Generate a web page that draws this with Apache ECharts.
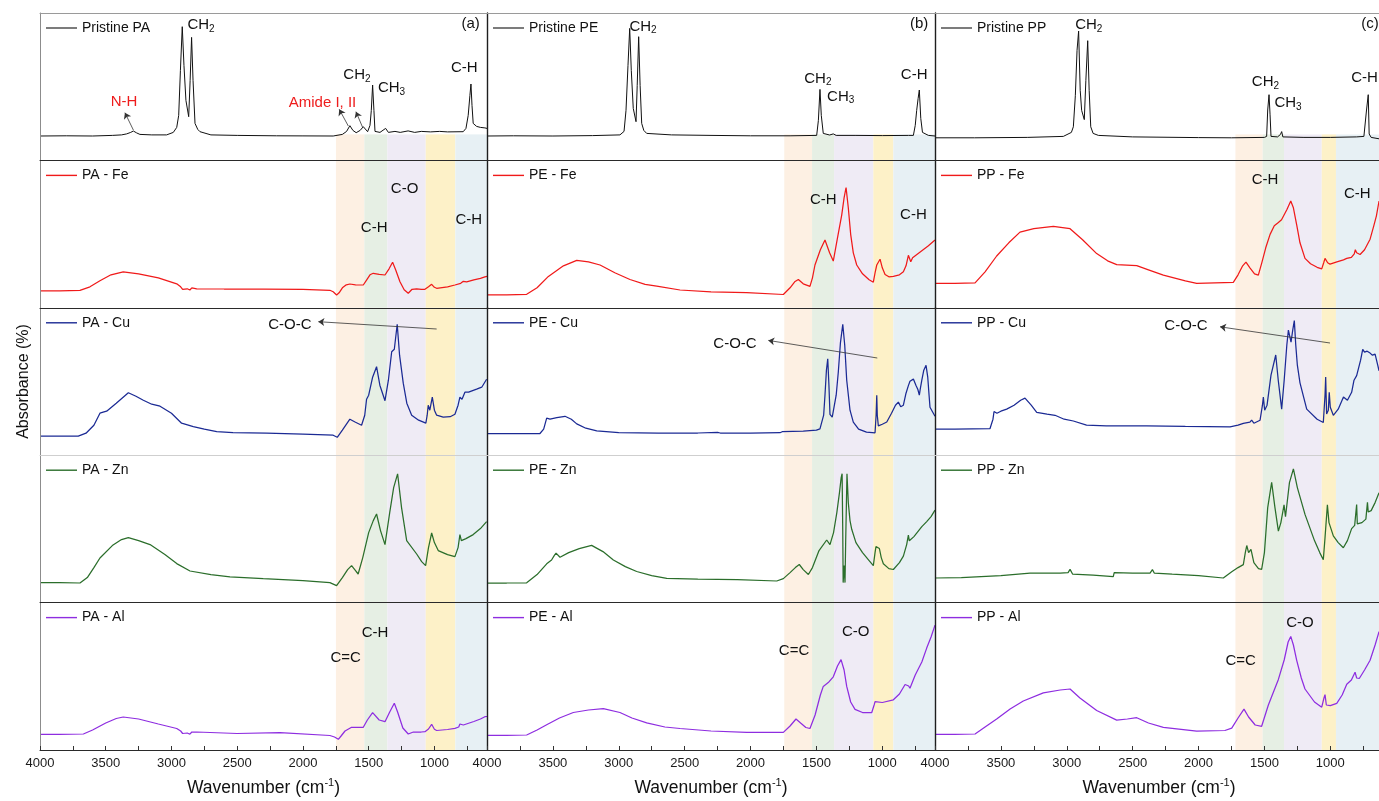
<!DOCTYPE html>
<html>
<head>
<meta charset="utf-8">
<title>FTIR spectra of pristine and metal-treated PA, PE and PP</title>
<script src="https://cdn.jsdelivr.net/npm/echarts@6/dist/echarts.min.js"></script>
<style>
  html, body { margin: 0; padding: 0; background: #ffffff; }
  #chart { width: 1379px; height: 801px; }
</style>
</head>
<body>
<div id="chart"></div>
<script>
// ---------- spectra: [wavenumber (cm-1), absorbance (a.u.)] ----------
const pristinePA = [[4000,24.4],[3800,24.6],[3600,24.4],[3450,25],[3380,25.5],[3341,26.5],[3310,28],[3290,29.4],[3265,27.5],[3240,26],[3150,25.5],[3037,25.5],[2986,28],[2960,33],[2945,45],[2932,90],[2918,133.7],[2905,95],[2890,60],[2869,43.7],[2858,80],[2847,123],[2836,80],[2821,37],[2800,31],[2783,28.7],[2700,25.5],[2500,25],[2200,24.6],[2000,24.5],[1770,24.4],[1700,26],[1668,29],[1643,34.7],[1620,30],[1595,27.7],[1565,30],[1541,33.7],[1508,28.7],[1490,35],[1480,50],[1470,75.4],[1460,50],[1452,29],[1414,28],[1371,32],[1350,28],[1300,29],[1260,28],[1200,29.5],[1150,28],[1100,29],[1030,28.5],[960,29],[900,28.5],[781,28.7],[760,32],[743,45],[730,65],[722,76.4],[714,55],[705,37],[690,35],[679,34],[650,33],[616,32.5],[600,32]];
const paFe = [[4000,17],[3850,17],[3696,17.5],[3620,21],[3544,27],[3460,33],[3367,36],[3250,34],[3100,30],[2960,24],[2930,21],[2915,18.5],[2900,20.5],[2880,19],[2860,17.8],[2845,20],[2808,19],[2600,18.8],[2300,18.6],[2000,18.4],[1795,17.5],[1770,16],[1744,12.8],[1725,15],[1700,20],[1670,23],[1643,23.8],[1600,23],[1541,22.8],[1515,28],[1490,33],[1465,34.5],[1420,33.5],[1376,32.8],[1345,39],[1318,45.5],[1295,38],[1262,26],[1230,18],[1199,14.5],[1170,18.5],[1135,19],[1100,18.5],[1072,18.5],[1045,21],[1021,23.5],[1000,20.5],[983,19.5],[900,21],[844,22.8],[800,24.5],[780,26.5],[770,25],[755,26],[700,28],[650,29.5],[616,31],[600,31.5]];
const paCu = [[4000,19],[3850,19],[3709,19],[3650,22],[3590,30],[3544,42],[3520,43],[3493,44],[3420,52],[3328,62.5],[3270,59],[3214,55],[3150,51],[3087,49],[3000,42],[2923,32],[2834,28.5],[2750,26],[2656,23.5],[2532,22.5],[2276,22],[2000,21],[1770,20],[1739,17.9],[1700,25],[1643,36],[1600,33],[1554,30],[1530,40],[1516,56],[1500,60],[1470,78],[1440,88.5],[1415,70],[1376,54.5],[1350,75],[1325,103.5],[1305,106],[1283,131],[1265,100],[1237,72],[1210,52],[1173,40],[1120,35],[1065,32],[1055,40],[1047,50],[1035,45],[1016,58],[1000,45],[983,40],[933,38],[880,38.5],[844,41],[820,50],[806,58],[790,56],[768,63],[740,63],[679,66],[640,68],[603,76]];
const paZn = [[4000,20],[3850,20],[3696,19.6],[3640,25],[3590,35],[3544,44.6],[3450,57],[3380,63],[3328,65],[3250,62],[3163,58],[3050,48],[2960,39],[2859,31.6],[2700,28],[2555,25.8],[2302,24],[2000,22],[1795,20],[1744,17],[1700,25],[1660,33],[1630,37],[1600,32],[1580,28.6],[1545,45],[1500,70],[1465,82],[1440,88.6],[1410,72],[1376,58],[1340,90],[1310,115],[1280,128.8],[1250,95],[1211,62],[1135,48.6],[1097,41],[1067,37],[1045,55],[1021,69.6],[1000,60],[971,52],[900,48],[844,46],[820,55],[806,68],[795,62],[760,64],[705,68],[650,74],[603,81]];
const paAl = [[4000,15.7],[3850,15.7],[3670,16],[3600,20],[3500,27],[3420,31.5],[3367,33],[3250,31],[3100,26],[2960,21.5],[2930,19],[2915,16.5],[2900,18.5],[2880,17],[2860,15.8],[2845,18],[2808,18],[2500,16.5],[2175,17.3],[1795,14.5],[1760,13],[1731,10.7],[1710,14],[1680,19],[1630,22.7],[1541,22.7],[1510,30],[1470,37.3],[1420,30],[1376,28.3],[1340,38],[1305,46.7],[1280,38],[1240,22],[1199,16],[1160,18],[1100,18],[1072,18.3],[1045,21],[1021,25.7],[1000,20.7],[983,19.5],[900,20.5],[844,21.7],[815,23],[806,26],[795,24],[780,25],[700,28.5],[650,31],[616,33.3],[600,33.5]];

const pristinePE = [[4000,24.4],[3800,24.6],[3500,24.4],[3200,24.8],[2991,25.5],[2960,29],[2945,50],[2930,95],[2917,132],[2905,90],[2890,52],[2869,38.7],[2860,75],[2849,123.7],[2838,75],[2826,37],[2810,30],[2788,27],[2600,25.5],[2300,25],[2000,24.6],[1700,24.6],[1498,25],[1485,40],[1473,71],[1463,45],[1448,27],[1400,25.4],[1372,26.5],[1350,25],[1200,25],[1000,24.8],[800,25],[764,25],[750,35],[739,50],[728,62],[719,70.4],[708,42],[695,28],[689,26],[650,25],[600,24.4]];
const peFe = [[4000,13],[3850,13],[3699,13.5],[3620,20],[3534,31.4],[3420,42],[3319,47.5],[3230,46],[3142,42.8],[3030,35],[2915,28.3],[2800,23.5],[2712,21.7],[2535,17.8],[2300,16],[2029,15.2],[1751,13.3],[1700,20],[1665,26],[1637,28.3],[1600,24],[1549,21.4],[1530,30],[1511,42.8],[1470,58],[1435,67.8],[1400,55],[1372,46.7],[1340,70],[1308,92.7],[1290,110],[1275,120.3],[1258,100],[1240,73.5],[1220,55],[1194,42.8],[1150,34],[1100,28],[1068,25.6],[1055,35],[1042,42.8],[1017,48.6],[1000,40],[979,33.3],[950,31],[916,31.4],[870,33],[840,36],[820,42],[802,52.5],[784,46],[770,50],[740,53],[700,57],[650,62],[600,67.8]];
const peCu = [[4000,21.7],[3800,21.7],[3598,21.7],[3570,26],[3547,37],[3522,36],[3470,37.5],[3408,38.9],[3360,36],[3319,31.3],[3250,27],[3167,24.4],[3000,22.5],[2700,22],[2400,22.2],[2250,22.8],[2230,22.2],[2000,22],[1776,22.5],[1760,23.5],[1600,24],[1500,25],[1473,26.3],[1445,40],[1435,60],[1424,85],[1414,96.4],[1405,70],[1397,40.8],[1380,38],[1366,40],[1350,60],[1334,83],[1318,112],[1300,130.9],[1285,110],[1270,75],[1245,45],[1220,33],[1180,26],[1120,23],[1055,22.4],[1047,40],[1042,60],[1038,40],[1030,29.3],[1000,31],[966,33.2],[930,42],[900,50],[878,53.1],[860,48.5],[840,50],[820,62],[802,69.6],[790,74],[764,76.1],[745,70],[730,65.7],[719,60],[712,66],[700,75],[685,85],[668,89.9],[655,78],[645,60],[638,48],[600,38.9]];
const peZn = [[4000,19.6],[3850,19.6],[3699,19.8],[3620,28],[3547,38.8],[3510,42.6],[3490,47],[3476,49.5],[3446,45.3],[3380,50],[3300,54],[3206,57.2],[3120,51],[3041,42.6],[2950,36],[2864,31.1],[2750,27],[2636,24.2],[2400,23.5],[2100,23],[1801,21.6],[1751,24],[1700,30],[1660,35],[1630,38.1],[1600,33],[1561,28.1],[1530,35],[1480,52],[1422,62.6],[1397,58],[1370,70],[1345,90],[1325,110],[1312,125],[1305,128.9],[1300,70],[1297,20],[1290,37],[1283,20],[1278,60],[1268,128.9],[1258,100],[1245,82],[1232,73.3],[1200,60],[1150,50],[1100,42],[1068,36.9],[1055,50],[1048,56],[1035,54],[1022,54.1],[1008,45],[992,38.8],[950,34],[916,33.1],[870,40],[840,46.5],[815,58],[802,67.5],[795,61.8],[760,66],[700,76],[663,81],[630,86],[600,92.4]];
const peAl = [[4000,14.6],[3850,14.6],[3699,15],[3620,20],[3547,25.3],[3450,32],[3345,37.5],[3230,40],[3117,41.4],[2991,37.5],[2900,32],[2788,27.2],[2650,23],[2535,21.5],[2300,19],[2029,17.6],[1751,17.6],[1700,24],[1655,31],[1620,27],[1580,22.5],[1549,21.5],[1510,35],[1470,55],[1448,63.6],[1410,67.4],[1372,73.2],[1340,84],[1313,90.4],[1290,80],[1270,63.6],[1240,48],[1207,40.6],[1150,37.5],[1080,37.5],[1062,45],[1055,48.3],[1045,46.4],[1000,47.5],[916,50.2],[870,56],[827,65.5],[815,67.4],[800,64],[790,61.7],[750,75],[700,88],[663,101.9],[630,113],[600,124.9]];

const pristinePP = [[4000,22.6],[3700,22.6],[3300,23],[3026,24],[2965,28],[2950,33.6],[2935,64.7],[2922,110],[2910,129.3],[2898,70],[2887,50],[2867,40.8],[2855,80],[2841,119.7],[2830,70],[2818,33.6],[2800,27],[2760,25],[2500,23.5],[2000,22.8],[1750,22.6],[1500,23],[1483,24],[1475,50.4],[1465,65.7],[1457,45.6],[1450,24],[1400,23.5],[1378,26],[1369,28.8],[1360,23.5],[1200,23],[1000,23],[800,23.5],[745,24],[725,50.4],[712,65.7],[705,26.4],[690,23],[630,21.6]];
const ppFe = [[4000,24.5],[3850,24.5],[3696,25],[3620,36],[3532,51.8],[3440,65],[3355,75.7],[3250,79.1],[3102,81.5],[2975,79.1],[2880,68],[2773,54.2],[2690,47],[2621,43.2],[2469,42.2],[2380,38],[2267,32.7],[2100,27],[2014,24.5],[1736,25.5],[1700,33],[1665,42],[1640,45.6],[1610,40],[1575,34],[1546,32.7],[1520,45],[1490,60],[1457,73.4],[1425,82],[1394,85.3],[1370,88],[1330,98],[1300,106.8],[1280,100],[1255,82.9],[1230,65],[1192,49.4],[1150,44],[1100,40.5],[1065,38.9],[1050,45],[1040,49.4],[1020,45],[1002,43.7],[950,46],[900,48],[875,49.4],[840,50.4],[818,54],[810,58.1],[800,55],[774,53.3],[740,58],[698,68.6],[670,82],[650,92],[630,106.8]];
const ppCu = [[4000,26],[3850,26],[3583,26.5],[3560,36],[3552,43.7],[3530,42],[3500,44],[3456,46.1],[3400,50],[3350,55],[3317,57.1],[3270,50],[3228,42.8],[3150,41],[3089,39.9],[3020,36],[2950,34.2],[2850,30],[2700,29.4],[2394,29.4],[2100,28.8],[1761,28.4],[1700,30],[1660,31.8],[1610,33],[1597,35.1],[1580,32],[1533,35],[1515,50],[1508,58.1],[1498,45],[1480,50],[1450,80],[1414,100.2],[1395,75],[1369,46.1],[1350,75],[1330,110],[1318,125.1],[1298,113],[1285,125],[1273,134.6],[1262,110],[1250,90],[1230,72.4],[1179,46.1],[1100,36],[1053,32.7],[1040,60],[1035,78.2],[1028,41.3],[1015,45],[1008,62.9],[1000,48],[977,39.9],[940,46],[900,58.1],[870,55],[838,62.9],[820,75],[800,79.6],[790,78],[770,95],[754,105.9],[740,103],[720,104],[698,102.1],[680,100],[660,101.1],[640,90],[630,84.4]];
const ppZn = [[4000,24.6],[3800,25],[3500,27],[3279,29.4],[3050,29.4],[2990,30],[2975,33.2],[2955,28.4],[2800,27.5],[2647,26],[2640,30],[2500,29.5],[2368,29.4],[2350,33],[2335,29.4],[2200,28.4],[2000,27],[1812,24.6],[1748,30.8],[1700,35],[1660,38],[1645,50],[1634,57.1],[1620,50],[1602,53.3],[1580,40],[1545,34],[1521,33.2],[1500,50],[1475,95],[1445,120.3],[1420,95],[1394,71.5],[1375,80],[1351,97.8],[1340,85.9],[1310,120],[1280,133.7],[1250,115],[1192,88.2],[1120,62],[1080,50],[1053,42.8],[1040,65],[1022,97.8],[1010,80],[977,66.7],[940,60],[901,54.8],[870,62],[838,74],[815,77.2],[805,78],[800,98],[795,78.7],[760,80],[730,83.5],[723,83.5],[718,100.2],[712,90.6],[690,92],[660,100],[630,109.8]];
const ppAl = [[4000,15.6],[3850,15.6],[3696,16],[3620,23],[3532,30.9],[3430,41],[3330,49],[3178,57.2],[3050,60],[2975,61],[2900,52],[2773,39.5],[2621,29.9],[2540,31],[2469,32.3],[2380,27],[2267,22.7],[2014,18.9],[1800,19.5],[1748,21.8],[1700,32],[1655,40.9],[1620,33],[1570,25],[1521,23.7],[1470,45],[1394,70.6],[1350,90],[1320,108],[1300,113.6],[1280,105],[1255,89.7],[1220,72],[1192,61],[1120,48],[1065,42.8],[1048,52],[1040,55.3],[1030,45],[1000,44.3],[951,46.6],[910,55],[875,65.8],[840,70],[812,77.8],[800,72],[780,71.5],[740,80],[698,89.7],[660,105],[630,118.4]];

// ---------- series names, one column per polymer ----------
const namesPA = ['Pristine PA', 'PA - Fe', 'PA - Cu', 'PA - Zn', 'PA - Al'];
const namesPE = ['Pristine PE', 'PE - Fe', 'PE - Cu', 'PE - Zn', 'PE - Al'];
const namesPP = ['Pristine PP', 'PP - Fe', 'PP - Cu', 'PP - Zn', 'PP - Al'];

// ---------- axis ticks ----------
const tickLabels = [4000, 3500, 3000, 2500, 2000, 1500, 1000];
const tickMarks = [4000, 3750, 3500, 3250, 3000, 2750, 2500, 2250, 2000, 1750, 1500, 1250, 1000, 750];

// ---------- highlighted wavenumber regions per column (edges, cm-1) ----------
const bandEdgesPA = [1749, 1533, 1358, 1066, 841, 600];
const bandEdgesPE = [1744, 1533, 1366, 1068, 916, 600];
const bandEdgesPP = [1720, 1513, 1351, 1065, 957, 600];

// ---------- peak assignments: [series, wavenumber, absorbance, text, red?] ----------
const peakLabels = [
  ['Pristine PA', 2775, 135.4, 'CH{s|2}'],
  ['Pristine PA', 3361, 58.7, 'N-H', 1],
  ['Pristine PA', 1851, 57.7, 'Amide I, II', 1],
  ['Pristine PA', 1589, 85.4, 'CH{s|2}'],
  ['Pristine PA', 1326, 72.1, 'CH{s|3}'],
  ['Pristine PA', 773, 92.1, 'C-H'],
  ['PA - Fe', 1458, 79.5, 'C-H'],
  ['PA - Fe', 1227, 118.5, 'C-O'],
  ['PA - Fe', 738, 87.8, 'C-H'],
  ['PA - Cu', 2099, 130.5, 'C-O-C'],
  ['PA - Al', 1452, 116.7, 'C-H'],
  ['PA - Al', 1675, 92.3, 'C=C'],
  ['Pristine PE', 2816, 133.7, 'CH{s|2}'],
  ['Pristine PE', 1489, 82, 'CH{s|2}'],
  ['Pristine PE', 1316, 63.7, 'CH{s|3}'],
  ['Pristine PE', 758, 85.4, 'C-H'],
  ['PE - Fe', 1448, 108, 'C-H'],
  ['PE - Fe', 764, 93.4, 'C-H'],
  ['PE - Cu', 2118, 111.7, 'C-O-C'],
  ['PE - Al', 1202, 118.4, 'C-O'],
  ['PE - Al', 1670, 99.2, 'C=C'],
  ['Pristine PP', 2833, 135.5, 'CH{s|2}'],
  ['Pristine PP', 1492, 78.1, 'CH{s|2}'],
  ['Pristine PP', 1321, 57.5, 'CH{s|3}'],
  ['Pristine PP', 740, 82.4, 'C-H'],
  ['PP - Fe', 1495, 128.4, 'C-H'],
  ['PP - Fe', 795, 114, 'C-H'],
  ['PP - Cu', 2095, 129.8, 'C-O-C'],
  ['PP - Al', 1230, 127, 'C-O'],
  ['PP - Al', 1680, 88.8, 'C=C']
];
// pointer arrows: [series, from wavenumber, from absorbance, to wavenumber, to absorbance]
const pointerArrows = [
  ['Pristine PA', 3290, 30.4, 3354, 47.7],
  ['Pristine PA', 1655, 34.4, 1724, 51.1],
  ['Pristine PA', 1546, 33, 1597, 48.7],
  ['PA - Cu', 983, 126.2, 1883, 133.5],
  ['PE - Cu', 1038, 97.2, 1865, 114.8],
  ['PP - Cu', 1002, 112.2, 1837, 128.4]
];
const panelTags = ['(a)', '(b)', '(c)'];

// ---------- layout & style ----------
const FONT = '"Liberation Sans", Arial, Helvetica, sans-serif';
const COL_LEFT = [40, 487, 935];
const COL_W = [447, 448, 448];
const TOP = 13;
const ROW_H = 147.4;
const WN_MIN = 600, WN_MAX = 4000;
const LINE_COLORS = ['#111111', '#f01a1a', '#1b2a94', '#2b6e2b', '#8e2de0'];
const BAND_COLORS = ['#fdf0e3', '#e6efe4', '#efebf5', '#fdf1c8', '#e7f0f4'];
const RED = '#ee1c1c';
const TAG_POS = [[724, 136.4], [720, 136.4], [699, 136.5]];
const BASE_BAND_TOP = 26;

const columns = [
  { names: namesPA, data: [pristinePA, paFe, paCu, paZn, paAl], bands: bandEdgesPA },
  { names: namesPE, data: [pristinePE, peFe, peCu, peZn, peAl], bands: bandEdgesPE },
  { names: namesPP, data: [pristinePP, ppFe, ppCu, ppZn, ppAl], bands: bandEdgesPP }
];

const option = {
  animation: false,
  backgroundColor: '#ffffff',
  textStyle: { fontFamily: FONT },
  grid: [], xAxis: [], yAxis: [], legend: [], series: []
};
const topAxes = [];

columns.forEach((col, c) => {
  col.names.forEach((name, r) => {
    const i = c * 5 + r;
    const top = TOP + r * ROW_H;
    const isBottom = r === 4;

    option.grid.push({
      left: COL_LEFT[c], top: top, width: COL_W[c], height: ROW_H,
      show: false, containLabel: false, outerBoundsMode: 'none'
    });

    option.xAxis.push({
      gridIndex: i, type: 'value', min: WN_MIN, max: WN_MAX, inverse: true, z: 10,
      axisLine: { show: true, onZero: false, lineStyle: { color: r === 2 ? '#cfcfcf' : '#2a2a2a', width: 1 } },
      axisTick: isBottom
        ? { show: true, inside: true, length: 4, customValues: tickMarks, lineStyle: { color: '#333', width: 1 } }
        : { show: false },
      axisLabel: isBottom
        ? { show: true, customValues: tickLabels, margin: 7, fontSize: 13, color: '#1a1a1a', fontFamily: FONT, formatter: v => String(v) }
        : { show: false },
      splitLine: { show: false },
      name: isBottom ? '{b|Wavenumber (cm}{sup|-1}{b|)}' : '',
      nameLocation: 'middle', nameGap: 27,
      nameTextStyle: {
        fontFamily: FONT, color: '#111',
        rich: {
          b: { fontSize: 17.5, lineHeight: 22, fontFamily: FONT, color: '#111' },
          sup: { fontSize: 11, lineHeight: 12, verticalAlign: 'top', fontFamily: FONT, color: '#111' }
        }
      }
    });

    if (r === 0) {
      topAxes.push({
        gridIndex: i, type: 'value', position: 'top', min: WN_MIN, max: WN_MAX, inverse: true, z: 10,
        axisLine: { show: true, onZero: false, lineStyle: { color: '#9a9a9a', width: 1 } },
        axisTick: { show: false }, axisLabel: { show: false }, splitLine: { show: false }
      });
    }

    option.yAxis.push({
      gridIndex: i, type: 'value', min: 0, max: ROW_H, z: 10,
      axisLine: { show: true, onZero: false, lineStyle: { color: c === 0 ? '#8c8c8c' : '#1e1e1e', width: c === 0 ? 1 : 1.4 } },
      axisTick: { show: false }, axisLabel: { show: false }, splitLine: { show: false },
      name: (c === 0 && r === 2) ? 'Absorbance (%)' : '',
      nameLocation: 'middle', nameGap: 8,
      nameTextStyle: { fontSize: 16, color: '#111', fontFamily: FONT }
    });

    // legend key: a plain short line in the series colour
    option.legend.push({
      data: [name], left: COL_LEFT[c] + 6, top: top + 7, padding: 0,
      icon: 'rect', itemWidth: 31, itemHeight: r === 0 ? 1.1 : 1.4, selectedMode: false,
      textStyle: { fontSize: 14, color: '#111', fontFamily: FONT, lineHeight: 16 }
    });

    // highlighted regions
    const edges = col.bands;
    const areas = BAND_COLORS.map((color, k) => {
      const a = { xAxis: edges[k], itemStyle: { color: color, opacity: 1 } };
      const b = { xAxis: edges[k + 1] };
      if (r === 0) { a.yAxis = 0; b.yAxis = BASE_BAND_TOP; }
      return [a, b];
    });

    const labels = peakLabels.filter(p => p[0] === name).map(p => ({
      coord: [p[1], p[2]],
      label: { formatter: p[3], color: p[4] ? RED : '#111' }
    }));
    if (r === 0) {
      labels.push({ coord: TAG_POS[c], label: { formatter: panelTags[c], color: '#111' } });
    }

    const arrows = pointerArrows.filter(p => p[0] === name).map(p => [
      { coord: [p[1], p[2]] }, { coord: [p[3], p[4]] }
    ]);

    option.series.push({
      type: 'line', name: name, xAxisIndex: i, yAxisIndex: i,
      data: col.data[r], symbol: 'none', showSymbol: false, silent: true, z: 3,
      lineStyle: { color: LINE_COLORS[r], width: r === 0 ? 1 : 1.25 },
      itemStyle: { color: LINE_COLORS[r] },
      emphasis: { disabled: true },
      markArea: { silent: true, data: areas },
      markPoint: {
        silent: true, symbol: 'rect', symbolSize: 1,
        itemStyle: { color: 'rgba(0,0,0,0)' },
        label: {
          show: true, position: 'inside', fontSize: 15, lineHeight: 18, fontFamily: FONT,
          rich: { s: { fontSize: 10, lineHeight: 10, verticalAlign: 'bottom', fontFamily: FONT } }
        },
        data: labels
      },
      markLine: {
        silent: true, symbol: ['none', 'arrow'], symbolSize: 6,
        label: { show: false },
        lineStyle: { color: '#333', width: 0.8, type: 'solid' },
        emphasis: { disabled: true },
        data: arrows
      }
    });
  });
});
option.xAxis = option.xAxis.concat(topAxes);

const chart = echarts.init(document.getElementById('chart'), null, { renderer: 'canvas' });
chart.setOption(option);
</script>
</body>
</html>
